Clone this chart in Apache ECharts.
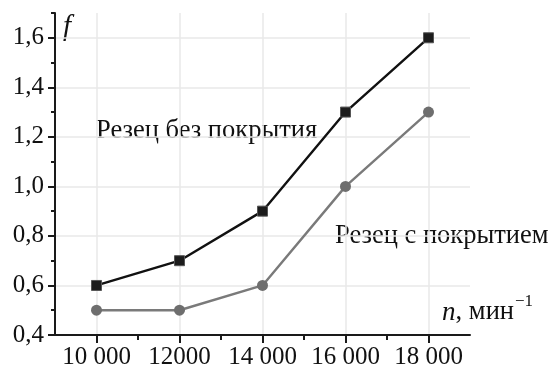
<!DOCTYPE html>
<html><head><meta charset="utf-8">
<script src="https://cdn.jsdelivr.net/npm/echarts@6/dist/echarts.min.js"></script>
<style>html,body{margin:0;padding:0;background:#fff}#c{width:550px;height:370px}</style>
</head><body><div id="c"></div>
<script>
const xCats = ['9000','10000','11000','12000','13000','14000','15000','16000','17000','18000','19000'];
const xLabels = {'10000':'10 000','12000':'12000','14000':'14 000','16000':'16 000','18000':'18 000'};
const xPoints = ['10000','12000','14000','16000','18000'];
const uncoated = [0.6, 0.7, 0.9, 1.3, 1.6];
const coated = [0.5, 0.5, 0.6, 1.0, 1.3];
const seriesNames = ['Резец без покрытия', 'Резец с покрытием'];

const font = '"Liberation Serif", "Times New Roman", serif';
const chart = echarts.init(document.getElementById('c'), null, {renderer:'canvas'});
const isMajor = (i) => i % 2 === 1;
chart.setOption({
  animation:false,
  backgroundColor:'#fff',
  grid:{left:55, right:80, top:13, bottom:35, containLabel:false},
  xAxis:[{
    type:'category', data:xCats, boundaryGap:false, position:'bottom',
    axisLine:{show:true, lineStyle:{color:'#1a1a1a', width:2}},
    axisTick:{show:true, interval:(i)=>isMajor(i), length:8, lineStyle:{color:'#1a1a1a', width:2}},
    axisLabel:{show:true, interval:(i)=>isMajor(i), margin:10, color:'#111', fontFamily:font, fontSize:25,
      formatter:(v)=>xLabels[v] || ''},
    splitLine:{show:true, interval:(i)=>isMajor(i), lineStyle:{color:'#e8e8e8', width:1.5}}
  },{
    type:'category', data:xCats, boundaryGap:false, position:'bottom', offset:0,
    axisLine:{show:false},
    axisTick:{show:true, interval:(i)=>i%2===0 && i>0 && i<xCats.length-1, length:5, lineStyle:{color:'#1a1a1a', width:2}},
    axisLabel:{show:false}, splitLine:{show:false}
  }],
  yAxis:[{
    type:'value', min:0.4, max:1.7, interval:0.1, position:'left',
    axisLine:{show:true, lineStyle:{color:'#1a1a1a', width:2}},
    axisTick:{show:true, length:4, lineStyle:{color:'#1a1a1a', width:2}},
    axisLabel:{show:false}, splitLine:{show:false}
  },{
    type:'value', min:0.4, max:1.7, interval:0.2, position:'left', offset:0,
    axisLine:{show:false},
    axisTick:{show:true, length:7, lineStyle:{color:'#1a1a1a', width:2}},
    axisLabel:{show:true, showMaxLabel:false, margin:11, color:'#111', fontFamily:font, fontSize:25,
      formatter:(v)=>v.toFixed(1).replace('.', ',')},
    splitLine:{show:true, showMinLine:false, showMaxLine:false, lineStyle:{color:'#e8e8e8', width:1.5}}
  }],
  series:[{
    name:seriesNames[0], type:'line', xAxisIndex:0, yAxisIndex:0,
    data:xPoints.map((x,i)=>[x, uncoated[i]]),
    symbol:'rect', symbolSize:10,
    lineStyle:{color:'#111', width:2.4},
    itemStyle:{color:'#1c1c1c', borderColor:'#555', borderWidth:1}
  },{
    name:seriesNames[1], type:'line', xAxisIndex:0, yAxisIndex:0,
    data:xPoints.map((x,i)=>[x, coated[i]]),
    symbol:'circle', symbolSize:11,
    lineStyle:{color:'#7a7a7a', width:2.4},
    itemStyle:{color:'#6e6e6e', borderWidth:0}
  }],
  graphic:[
    {type:'text', left:96, top:118, style:{text:seriesNames[0], fontFamily:font, fontSize:26.5, fill:'#111'}},
    {type:'text', left:335, top:223, style:{text:seriesNames[1], fontFamily:font, fontSize:26.5, fill:'#111'}},
    {type:'text', left:63, top:13, style:{text:'f', fontFamily:font, fontSize:29, fontStyle:'italic', fill:'#111'}},
    {type:'text', right:36, top:299, style:{text:'{i|n}{r|, мин}', fill:'#111',
      rich:{i:{fontFamily:font, fontSize:27, fontStyle:'italic'}, r:{fontFamily:font, fontSize:26.5}}}},
    {type:'text', left:515, top:293, style:{text:'−1', fontFamily:font, fontSize:17, fill:'#111'}}
  ]
});
</script></body></html>
